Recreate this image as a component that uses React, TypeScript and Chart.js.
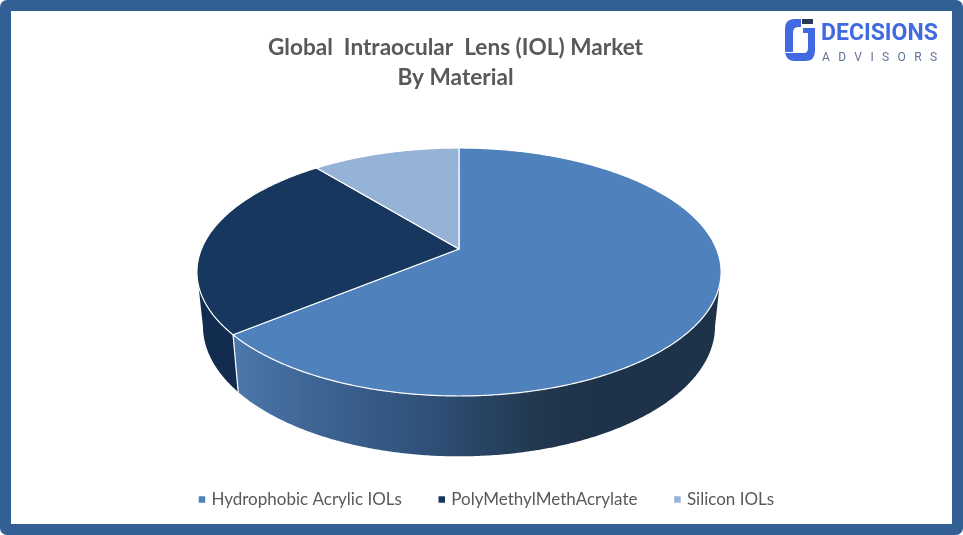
import React, { useEffect, useRef } from "react";
import { Chart, registerables } from "chart.js";

Chart.register(...registerables);

const titleLines = ["Global  Intraocular  Lens (IOL) Market", "By Material"];
const categories = ["Hydrophobic Acrylic IOLs", "PolyMethylMethAcrylate", "Silicon IOLs"];
const marketShare = [64.1, 25, 10.9];
const sliceColors = ["#4F81BD", "#17375E", "#95B3D7"];

const TEXT = "#595959";
const FONT = "Lato, 'Open Sans', sans-serif";

// Perspective ratios of the tilted disc, relative to the pie radius
const TILT = 0.1854;
const TOP_A = 1.981;
const TOP_B = 0.921;
const BOT_A = TOP_A * 0.977;
const BOT_B = TOP_B * 1.05;
const DEPTH = 53;

const rad = (d: number) => (d * Math.PI) / 180;

const point = (x: number, y: number, A: number, B: number, th: number) => {
  const w = 1 + TILT * Math.cos(th);
  return [x + (A * Math.sin(th)) / w, y - (B * Math.cos(th)) / w];
};

const pie3d = {
  id: "pie3d",
  afterLayout(chart: any) {
    const area = chart.chartArea;
    area.left = 329;
    area.right = 589;
    area.top = 119;
    area.bottom = 379;
    area.width = 260;
    area.height = 260;
    if (chart.titleBlock) {
      chart.titleBlock.left -= 26;
      chart.titleBlock.right -= 26;
    }
    if (chart.legend) {
      chart.legend.left += 6;
      chart.legend.right += 6;
    }
  },
  beforeDatasetDraw(chart: any, args: any) {
    const ctx = chart.ctx as CanvasRenderingContext2D;
    const arcs = chart.getDatasetMeta(args.index).data as any[];
    const cx = arcs[0].x;
    const cy = arcs[0].y;
    const R = arcs[0].outerRadius;
    const aT = R * TOP_A;
    const bT = R * TOP_B;
    const aB = R * BOT_A;
    const bB = R * BOT_B;
    const visFrom = Math.PI - Math.acos(TILT);
    const visTo = Math.PI + Math.acos(TILT);
    const top = (t: number) => point(cx, cy, aT, bT, t);
    const bot = (t: number) => point(cx, cy + DEPTH, aB, bB, t);
    const range = (a: number, b: number) => {
      const n = Math.max(2, Math.ceil((b - a) / rad(0.5)));
      return Array.from({ length: n + 1 }, (_, i) => a + ((b - a) * i) / n);
    };
    const angle = (el: any, key: string) => el[key] + Math.PI / 2;

    const wallFill = (i: number) => {
      if (i === 0) {
        const g = ctx.createLinearGradient(232, 0, 590, 0);
        g.addColorStop(0, "#4C78AC");
        g.addColorStop(0.2, "#3F6796");
        g.addColorStop(0.55, "#2F5078");
        g.addColorStop(0.85, "#22384F");
        g.addColorStop(1, "#1E3249");
        return g;
      }
      return "#122C4F";
    };

    ctx.save();
    ctx.lineJoin = "round";
    [1, 2, 0].forEach((i) => {
      const el = arcs[i];
      const a = Math.max(angle(el, "startAngle"), visFrom);
      const b = Math.min(angle(el, "endAngle"), visTo);
      if (b <= a) return;
      const ts = range(a, b);
      ctx.beginPath();
      ts.forEach((t, k) => {
        const p = top(t);
        if (k) ctx.lineTo(p[0], p[1]);
        else ctx.moveTo(p[0], p[1]);
      });
      ts.slice().reverse().forEach((t) => {
        const p = bot(t);
        ctx.lineTo(p[0], p[1]);
      });
      ctx.closePath();
      ctx.fillStyle = wallFill(i);
      ctx.fill();
    });

    // Edge where the two front walls meet
    const seam = angle(arcs[0], "endAngle");
    const s0 = top(seam);
    const s1 = bot(seam);
    ctx.beginPath();
    ctx.moveTo(s0[0], s0[1]);
    ctx.lineTo(s1[0], s1[1]);
    ctx.strokeStyle = "#FFFFFF";
    ctx.lineWidth = 1.2;
    ctx.stroke();

    arcs.forEach((el) => {
      ctx.beginPath();
      ctx.moveTo(cx, cy);
      range(angle(el, "startAngle"), angle(el, "endAngle")).forEach((t) => {
        const p = top(t);
        ctx.lineTo(p[0], p[1]);
      });
      ctx.closePath();
      ctx.fillStyle = el.options.backgroundColor;
      ctx.fill();
      ctx.strokeStyle = "#FFFFFF";
      ctx.lineWidth = 1.2;
      ctx.stroke();
    });
    ctx.restore();
    return false;
  },
};

export default function App() {
  const ref = useRef<HTMLCanvasElement>(null);
  useEffect(() => {
    document.body.style.margin = "0";
    const chart = new Chart(ref.current as HTMLCanvasElement, {
      type: "pie",
      data: {
        labels: categories,
        datasets: [{ data: marketShare, backgroundColor: sliceColors, borderWidth: 0 }],
      },
      options: {
        animation: false,
        responsive: false,
        layout: { padding: { top: 0, bottom: 17 } },
        plugins: {
          tooltip: { enabled: false },
          title: {
            display: true,
            text: titleLines,
            color: TEXT,
            font: { family: FONT, size: 22.6, weight: "bold", lineHeight: 1.33 },
            padding: { top: 33, bottom: 0 },
          },
          legend: {
            position: "bottom",
            labels: {
              color: TEXT,
              font: { family: FONT, size: 17 },
              usePointStyle: true,
              pointStyle: "rect",
              boxWidth: 2,
              boxHeight: 6.5,
              padding: 39,
            },
          },
        },
      },
      plugins: [pie3d],
    } as any);
    return () => chart.destroy();
  }, []);

  return (
    <div style={{ position: "relative", width: 963, height: 535, background: "#fff", overflow: "hidden" }}>
      <div
        style={{
          position: "absolute",
          inset: 0,
          boxSizing: "border-box",
          border: "11px solid #336094",
          borderRadius: 7,
        }}
      />
      <canvas ref={ref} width={963} height={535} style={{ position: "absolute", left: 0, top: 0 }} />
      <svg width={40} height={50} viewBox="0 0 40 50" style={{ position: "absolute", left: 780, top: 15 }}>
        <path d="M21 4 H14 Q5 4 5 14 V37 H13 V18 Q13 12 18 12 H21 Z" fill="#4169E1" />
        <path d="M23 13 H35 V36 Q35 46 25 46 H14 Q7 46 5 38 H24 Q28 38 28 33 V18 H23 Z" fill="#4169E1" />
        <rect x={22} y={4} width={11} height={5} fill="#2B3A55" />
      </svg>
      <div
        style={{
          position: "absolute",
          left: 821,
          top: 19,
          font: "bold 23px Roboto, sans-serif",
          color: "#4169E1",
          whiteSpace: "nowrap",
        }}
      >
        DECISIONS
      </div>
      <div
        style={{
          position: "absolute",
          left: 822,
          top: 50,
          font: "12px Roboto, sans-serif",
          letterSpacing: "8.4px",
          color: "#5D7396",
          whiteSpace: "nowrap",
        }}
      >
        ADVISORS
      </div>
    </div>
  );
}
